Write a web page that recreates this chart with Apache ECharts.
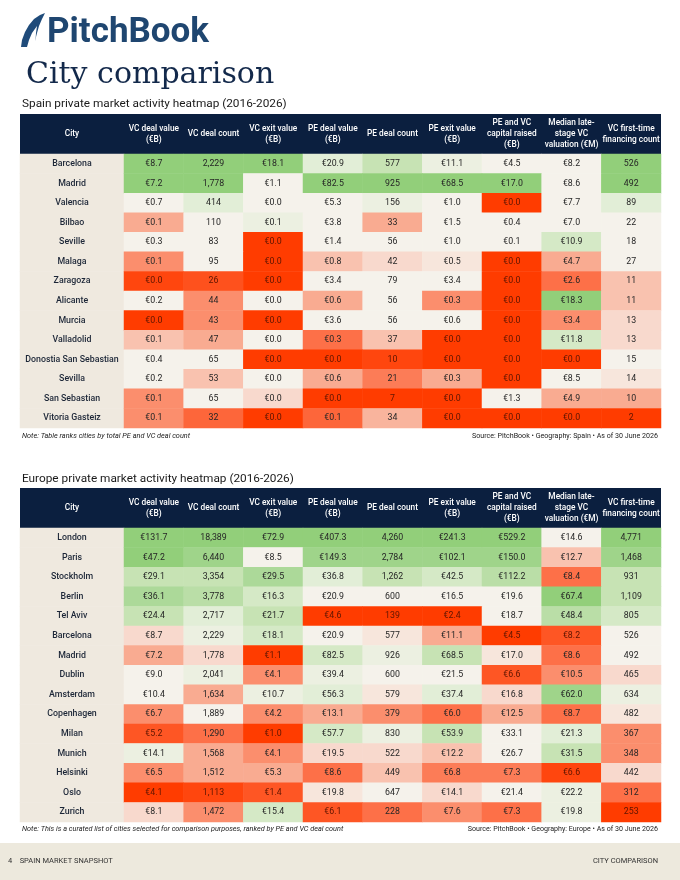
<!DOCTYPE html>
<html><head><meta charset="utf-8">
<script src="https://cdn.jsdelivr.net/npm/echarts@6/dist/echarts.min.js"></script>
<style>html,body{margin:0;padding:0;background:#fff}#c{width:680px;height:880px}</style>
</head><body><div id="c"></div><script>
// ---- column headers ----
const metrics = ['VC deal value\n(€B)', 'VC deal count', 'VC exit value\n(€B)', 'PE deal value\n(€B)', 'PE deal count', 'PE exit value\n(€B)', 'PE and VC\ncapital raised\n(€B)', 'Median late-\nstage VC\nvaluation (€M)', 'VC first-time\nfinancing count'];
const isEuro = [true, false, true, true, false, true, true, true, false];

// ---- Spain ----
const spainCities = ['Barcelona','Madrid','Valencia','Bilbao','Seville','Malaga','Zaragoza','Alicante','Murcia','Valladolid','Donostia San Sebastian','Sevilla','San Sebastian','Vitoria Gasteiz'];
const spainValues = [
  [8.7, 2229, 18.1, 20.9, 577, 11.1, 4.5, 8.2, 526],
  [7.2, 1778, 1.1, 82.5, 925, 68.5, 17.0, 8.6, 492],
  [0.7, 414, 0.0, 5.3, 156, 1.0, 0.0, 7.7, 89],
  [0.1, 110, 0.1, 3.8, 33, 1.5, 0.4, 7.0, 22],
  [0.3, 83, 0.0, 1.4, 56, 1.0, 0.1, 10.9, 18],
  [0.1, 95, 0.0, 0.8, 42, 0.5, 0.0, 4.7, 27],
  [0.0, 26, 0.0, 3.4, 79, 3.4, 0.0, 2.6, 11],
  [0.2, 44, 0.0, 0.6, 56, 0.3, 0.0, 18.3, 11],
  [0.0, 43, 0.0, 3.6, 56, 0.6, 0.0, 3.4, 13],
  [0.1, 47, 0.0, 0.3, 37, 0.0, 0.0, 11.8, 13],
  [0.4, 65, 0.0, 0.0, 10, 0.0, 0.0, 0.0, 15],
  [0.2, 53, 0.0, 0.6, 21, 0.3, 0.0, 8.5, 14],
  [0.1, 65, 0.0, 0.0, 7, 0.0, 1.3, 4.9, 10],
  [0.1, 32, 0.0, 0.1, 34, 0.0, 0.0, 0.0, 2]
];
// heat level: -4 = red ... 0 = neutral ... 4 = strong green
const spainTones = [
  [4, 4, 4, 1, 2, 0.5, 0, 0, 4],
  [4, 4, 0, 4, 4, 4, 4, 0, 4],
  [0, 1, 0, 0, 0.5, 0, -4, 0, 1],
  [-2, 0, 0.5, 0, -2, 0, 0, 0, 0],
  [0, 0, -4, 0, 0, 0, 0, 1.5, 0],
  [-2.5, 0, -4, -1.5, -1, -0.5, -4, -2, 0],
  [-3.8, -3.6, -4, 0, 0, 0, -4, -3, -1.5],
  [0, -2.5, 0, -2, 0, -2.5, -4, 4, -1.5],
  [-4, -2.5, -4, 0, 0, 0, -4, -2.5, -1],
  [-1.5, -2, 0, -3, -1.5, -4, -4, 1.5, -1],
  [0, 0, -4, -4, -3.8, -4, -4, -4, 0],
  [0, -1.5, 0, -2, -2.8, -2, -4, 0, -0.5],
  [-2.5, 0, -1, -4, -4, -4, 0, -2, -2],
  [-2.5, -3.2, -4, -3.2, -1.8, -4, -4, -4, -4]
];

// ---- Europe ----
const europeCities = ['London','Paris','Stockholm','Berlin','Tel Aviv','Barcelona','Madrid','Dublin','Amsterdam','Copenhagen','Milan','Munich','Helsinki','Oslo','Zurich'];
const europeValues = [
  [131.7, 18389, 72.9, 407.3, 4260, 241.3, 529.2, 14.6, 4771],
  [47.2, 6440, 8.5, 149.3, 2784, 102.1, 150.0, 12.7, 1468],
  [29.1, 3354, 29.5, 36.8, 1262, 42.5, 112.2, 8.4, 931],
  [36.1, 3778, 16.3, 20.9, 600, 16.5, 19.6, 67.4, 1109],
  [24.4, 2717, 21.7, 4.6, 139, 2.4, 18.7, 48.4, 805],
  [8.7, 2229, 18.1, 20.9, 577, 11.1, 4.5, 8.2, 526],
  [7.2, 1778, 1.1, 82.5, 926, 68.5, 17.0, 8.6, 492],
  [9.0, 2041, 4.1, 39.4, 600, 21.5, 6.6, 10.5, 465],
  [10.4, 1634, 10.7, 56.3, 579, 37.4, 16.8, 62.0, 634],
  [6.7, 1889, 4.2, 13.1, 379, 6.0, 12.5, 8.7, 482],
  [5.2, 1290, 1.0, 57.7, 830, 53.9, 33.1, 21.3, 367],
  [14.1, 1568, 4.1, 19.5, 522, 12.2, 26.7, 31.5, 348],
  [6.5, 1512, 5.3, 8.6, 449, 6.8, 7.3, 6.6, 442],
  [4.1, 1113, 1.4, 19.8, 647, 14.1, 21.4, 22.2, 312],
  [8.1, 1472, 15.4, 6.1, 228, 7.6, 7.3, 19.8, 253]
];
const europeTones = [
  [4, 4, 4, 4, 4, 4, 4, 0, 4],
  [4, 3.5, 0, 3.5, 3.5, 3.5, 3.5, -1.5, 3.5],
  [2, 2, 3, 1, 2, 1.5, 2.5, -3, 2],
  [3, 2.5, 1.5, 0, 0, 0, 0, 4, 2],
  [2, 1, 2, -4, -4, -4, 0, 2.5, 1.5],
  [-1, 0.5, 1.5, 0, -0.5, -2, -4, -3.5, 0],
  [-2, -1, -4, 1.5, 0.5, 2, -0.5, -3, 0],
  [0, 0.5, -2.5, 0.5, 0, 0, -3.5, -2.5, -1],
  [0, -2, 0.5, 1, -0.5, 1, -1, 3.5, 0.5],
  [-2.5, 0, -2.5, -2, -2.5, -3, -2, -3, -0.5],
  [-3.5, -3, -4, 1.5, 0.5, 2, 0, 1, -2.5],
  [0.5, -2, -2.5, -1, -1, -1.5, 0, 2, -2.5],
  [-2.5, -2, -2, -3, -1.5, -2.8, -2.8, -3.8, -1],
  [-4, -3.8, -3.5, -0.5, 0, -1, 0, 0.5, -3],
  [-1, -2.5, 1.5, -3.5, -3, -2.5, -3, 0.5, -4]
];

const FONT = 'Roboto';
const NAVY = '#0b1f3f';
const grids = [], xAxes = [], yAxes = [], series = [];

function addTable(cities, values, tones, top, height) {
  const gc = grids.length, gd = gc + 1;
  grids.push({ left: 20, width: 104, top: top, height: height });
  grids.push({ left: 124, right: 19, top: top, height: height });
  const headLabel = { color: '#fff', fontFamily: FONT, fontSize: 8.3, fontWeight: 500, lineHeight: 11, margin: 20, verticalAlign: 'middle', interval: 0 };
  xAxes.push({ type: 'category', gridIndex: gc, position: 'top', data: ['City'], axisLine: { show: false }, axisTick: { show: false }, axisLabel: headLabel });
  xAxes.push({ type: 'category', gridIndex: gd, position: 'top', data: metrics, axisLine: { show: false }, axisTick: { show: false }, axisLabel: headLabel });
  yAxes.push({ gridIndex: gc, type: 'category', data: cities, inverse: true, axisLine: { show: false }, axisTick: { show: false }, axisLabel: { show: false }, splitLine: { show: false } });
  yAxes.push({ gridIndex: gd, type: 'category', data: cities, inverse: true, axisLine: { show: false }, axisTick: { show: false }, axisLabel: { show: false }, splitLine: { show: false } });
  series.push({
    type: 'heatmap', xAxisIndex: gc, yAxisIndex: gc,
    data: cities.map((c, i) => [0, i, 0, c]),
    itemStyle: { color: '#efe9df' },
    label: { show: true, formatter: p => p.data[3], color: '#1c2637', fontFamily: FONT, fontSize: 8.8, fontWeight: 500 },
    emphasis: { disabled: true }, silent: true
  });
  const data = [];
  values.forEach((row, i) => row.forEach((v, j) => data.push([j, i, tones[i][j], v])));
  series.push({
    type: 'heatmap', xAxisIndex: gd, yAxisIndex: gd, data: data,
    label: {
      show: true, fontFamily: FONT, fontSize: 8.8, color: '#262626',
      formatter: p => {
        const j = p.data[0], v = p.data[3];
        const t = isEuro[j] ? '€' + v.toFixed(1) : v.toLocaleString('en-US');
        return p.data[2] <= -3.4 ? '{r|' + t + '}' : t;
      },
      rich: { r: { color: '#5e1500', fontFamily: FONT, fontSize: 8.8 } }
    },
    emphasis: { disabled: true }, silent: true
  });
}
addTable(spainCities, spainValues, spainTones, 154, 274);
addTable(europeCities, europeValues, europeTones, 528, 294);

function txt(x, y, text, size, opts) {
  return { type: 'text', x: x, y: y, style: Object.assign({ text: text, fontFamily: FONT, fontSize: size, fill: '#222', verticalAlign: 'middle' }, opts || {}) };
}

const graphics = [
  { type: 'rect', shape: { x: 20, y: 114, width: 641, height: 40 }, style: { fill: NAVY }, z: -5 },
  { type: 'rect', shape: { x: 20, y: 488, width: 641, height: 40 }, style: { fill: NAVY }, z: -5 },
  { type: 'rect', shape: { x: 0, y: 843, width: 680, height: 37 }, style: { fill: '#ede9dd' }, z: -5 },
  // logo mark
  { type: 'polygon', shape: { points: [[21,47],[22,40],[25,32],[29,25],[34,19],[40,15],[45,13],[42,19],[39,26],[37,33],[35,41],[34,47]] }, style: { fill: '#1f4b7a' } },
  { type: 'polygon', shape: { points: [[27,47],[29,40],[32,33],[37,26],[36,33],[35.5,40],[36,47]] }, style: { fill: '#ffffff' } },
  txt(47, 33, 'PitchBook', 35, { fill: '#1f4670', fontWeight: 'bold' }),
  txt(26, 75, 'City comparison', 30, { fill: '#13294b', fontFamily: 'DejaVu Serif' }),
  txt(22, 104, 'Spain private market activity heatmap (2016-2026)', 11.8, { fill: '#1a1a1a' }),
  txt(22, 479, 'Europe private market activity heatmap (2016-2026)', 11.8, { fill: '#1a1a1a' }),
  txt(22, 436, 'Note: Table ranks cities by total PE and VC deal count', 7.3, { fontStyle: 'italic', fill: '#222' }),
  txt(658, 436, 'Source: PitchBook • Geography: Spain • As of 30 June 2026', 7.1, { align: 'right', fill: '#222' }),
  txt(22, 829, 'Note: This is a curated list of cities selected for comparison purposes, ranked by PE and VC deal count', 7.3, { fontStyle: 'italic', fill: '#222' }),
  txt(658, 829, 'Source: PitchBook • Geography: Europe • As of 30 June 2026', 7.1, { align: 'right', fill: '#222' }),
  txt(8, 861, '4    SPAIN MARKET SNAPSHOT', 7.5, { fill: '#333' }),
  txt(658, 861, 'CITY COMPARISON', 7.5, { align: 'right', fill: '#333' })
];

const chart = echarts.init(document.getElementById('c'), null, { renderer: 'canvas' });
chart.setOption({
  backgroundColor: '#ffffff',
  animation: false,
  grid: grids, xAxis: xAxes, yAxis: yAxes,
  visualMap: {
    type: 'continuous', show: false, min: -4, max: 4, dimension: 2, seriesIndex: [1, 3],
    inRange: { color: ['#ff3c00', '#fd7048', '#f9ab91', '#f8d9cd', '#f5f2eb', '#e2eed7', '#c7e3b4', '#acd999', '#92cf7a'] }
  },
  graphic: graphics,
  series: series
});
</script></body></html>
